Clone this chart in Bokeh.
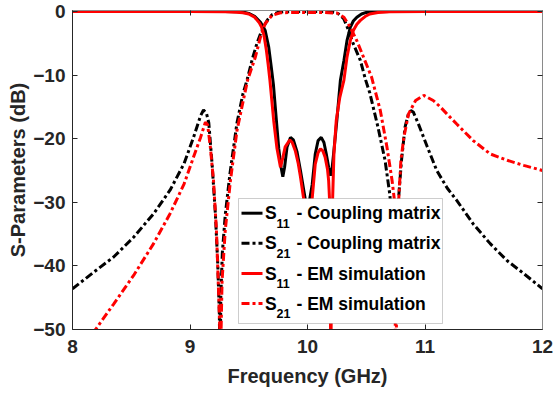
from bokeh.plotting import figure
from bokeh.models import LinearAxis, FixedTicker, BoxAnnotation, Label
from bokeh.embed import file_html
from bokeh.resources import INLINE

# ---------------- data ----------------
x_ticks = [8, 9, 10, 11, 12]
y_ticks = [-50, -40, -30, -20, -10, 0]

# S11 - coupling matrix (black solid)
s11_cm_f = [8.00, 8.50, 9.00, 9.30, 9.40, 9.45, 9.50, 9.55, 9.60, 9.64, 9.67, 9.69, 9.71,
            9.735, 9.755, 9.775, 9.79, 9.805, 9.826, 9.855, 9.88, 9.91, 9.94, 9.98,
            10.00, 10.02, 10.04, 10.066, 10.09, 10.117, 10.14, 10.16, 10.18, 10.195,
            10.21, 10.222, 10.25, 10.28, 10.31, 10.336, 10.364, 10.39, 10.42, 10.46,
            10.50, 10.55, 10.70, 11.00, 12.00]
s11_cm_db = [0.0, 0.0, 0.0, -0.02, -0.06, -0.10, -0.3, -0.75, -1.7, -3.0, -5.6, -8.5, -11.5,
             -17.1, -21.5, -24.5, -26.0, -24.5, -21.3, -19.8, -20.2, -22.0, -25.0, -29.4,
             -42.0, -29.4, -27.2, -22.4, -20.3, -19.8, -20.6, -22.4, -24.5, -25.8,
             -24.5, -22.4, -17.1, -10.8, -7.7, -4.6, -2.5, -1.5, -0.9, -0.4,
             -0.15, -0.05, -0.01, 0.0, 0.0]

# S21 - coupling matrix (black dash-dot)
s21_cm_f = [8.00, 8.18, 8.35, 8.52, 8.69, 8.83, 8.95, 9.03, 9.09, 9.115, 9.14, 9.16,
            9.188, 9.216, 9.236, 9.25, 9.255, 9.262, 9.275, 9.30, 9.34, 9.40, 9.45,
            9.49, 9.53, 9.57, 9.60, 9.63, 9.66, 9.70, 9.75, 9.80, 9.90, 10.10, 10.20,
            10.25, 10.28, 10.31, 10.35, 10.39, 10.45, 10.495, 10.53, 10.60, 10.66,
            10.70, 10.72, 10.74, 10.76, 10.776, 10.80, 10.83, 10.86, 10.88, 10.90,
            10.94, 11.02, 11.10, 11.19, 11.27, 11.41, 11.555, 11.70, 11.84, 12.00]
s21_cm_db = [-43.6, -41.0, -38.6, -35.5, -31.8, -28.1, -23.9, -19.8, -16.4, -15.5, -16.0, -17.5,
             -24.0, -31.8, -39.6, -47.5, -60.0, -45.0, -38.0, -32.0, -25.5, -17.5, -13.0,
             -10.5, -7.5, -5.0, -3.5, -2.3, -1.3, -0.5, -0.15, -0.05, -0.01, -0.01, -0.05,
             -0.2, -0.6, -1.2, -3.0, -5.1, -7.7, -10.8, -12.8, -18.2, -23.4,
             -28.7, -33.0, -45.0, -35.0, -29.2, -23.4, -18.2, -16.0, -15.6, -15.8,
             -17.5, -21.3, -25.0, -27.8, -29.7, -33.4, -36.5, -39.2, -41.2, -43.6]

# S11 - EM simulation (red solid)
s11_em_f = [8.00, 9.00, 9.30, 9.40, 9.45, 9.50, 9.55, 9.59, 9.61, 9.63, 9.65, 9.665, 9.68,
            9.712, 9.74, 9.77, 9.79, 9.81, 9.85, 9.87, 9.896, 9.92, 9.94, 9.967, 10.005,
            10.04, 10.066, 10.09, 10.11, 10.13, 10.15, 10.17, 10.18, 10.19, 10.198,
            10.206, 10.214, 10.225, 10.245, 10.275, 10.31, 10.336, 10.364, 10.39, 10.42,
            10.45, 10.49, 10.53, 10.60, 10.70, 11.00, 12.00]
s11_em_db = [0.0, -0.02, -0.05, -0.12, -0.2, -0.4, -0.9, -1.8, -2.5, -3.8, -6.1, -8.3, -10.8,
             -17.1, -21.5, -24.5, -23.0, -21.3, -20.2, -20.6, -21.9, -23.8, -26.0, -29.4, -40.0,
             -29.4, -24.0, -22.2, -21.6, -21.9, -22.9, -24.8, -26.6, -30.5, -56.0,
             -40.0, -29.4, -22.4, -17.1, -13.5, -10.8, -7.2, -4.6, -3.0, -2.0,
             -1.4, -0.8, -0.4, -0.15, -0.05, -0.02, 0.0]

# S21 - EM simulation (red dash-dot)
s21_em_f = [8.00, 8.196, 8.35, 8.52, 8.69, 8.83, 8.95, 9.03, 9.09, 9.131, 9.15, 9.173,
            9.20, 9.225, 9.24, 9.253, 9.26, 9.265, 9.273, 9.30, 9.344, 9.40, 9.49,
            9.556, 9.60, 9.64, 9.70, 9.77, 9.90, 10.10, 10.25, 10.31, 10.364, 10.42,
            10.477, 10.545, 10.62, 10.676, 10.72, 10.74, 10.745, 10.752, 10.76, 10.776,
            10.795, 10.82, 10.86, 10.92, 10.99, 11.07, 11.13, 11.186, 11.27, 11.41,
            11.555, 11.70, 11.84, 12.00]
s21_em_db = [-55.0, -50.0, -46.0, -41.5, -36.5, -31.8, -27.1, -22.9, -19.8, -17.4, -17.8, -21.3,
             -26.6, -34.4, -42.3, -49.6, -60.0, -49.6, -42.3, -34.4, -26.6, -18.7, -10.8,
             -7.2, -4.0, -1.9, -0.6, -0.2, -0.15, -0.15, -0.25, -0.9, -2.5, -4.6,
             -7.2, -10.3, -15.6, -21.3, -26.6, -29.7, -45.0, -60.0, -42.0, -29.7,
             -23.4, -19.8, -16.1, -14.0, -13.2, -14.0, -15.0, -16.1, -17.7, -20.3,
             -22.4, -23.4, -24.2, -25.0]

legend_main = ["S", "S", "S", "S"]
legend_sub = ["11", "21", "11", "21"]
legend_text = ["- Coupling matrix", "- Coupling matrix", "- EM simulation", "- EM simulation"]

# ---------------- layout ----------------
W, H = 554, 394
ML, MR, MT, MB = 72, 12, 10, 65
X0, X1 = 8, 12
Y0, Y1 = -50, 0.15
PAGE = 0
FL, FR = PAGE + ML, PAGE + W - MR
FT, FB = PAGE + MT, PAGE + H - MB


def px_x(px):
    return X0 + (px - FL) / (FR - FL) * (X1 - X0)


def px_y(py):
    return Y1 - (py - FT) / (FB - FT) * (Y1 - Y0)


FONT = "Liberation Sans"
AX = "#262626"
AX2 = "#8a8a8a"

p = figure(width=W, height=H, x_range=(X0, X1), y_range=(Y0, Y1),
           output_backend="svg", toolbar_location=None,
           min_border_left=ML, min_border_right=MR, min_border_top=MT, min_border_bottom=MB)
p.background_fill_color = "white"
p.border_fill_color = "white"
p.outline_line_color = None
p.grid.grid_line_color = None

for ax, ticks in ((p.xaxis[0], x_ticks), (p.yaxis[0], y_ticks)):
    ax.ticker = FixedTicker(ticks=ticks)
    ax.axis_line_color = AX
    ax.axis_line_width = 1
    ax.major_tick_line_color = AX
    ax.major_tick_in = 5
    ax.major_tick_out = 0
    ax.minor_tick_line_color = None
    ax.major_label_text_font = FONT
    ax.major_label_text_font_style = "bold"
    ax.major_label_text_font_size = "19px"
    ax.major_label_text_color = AX
    ax.axis_label_text_font = FONT
    ax.axis_label_text_font_style = "bold"
    ax.axis_label_text_font_size = "20px"
    ax.axis_label_text_color = AX

p.xaxis[0].axis_label = "Frequency (GHz)"
p.xaxis[0].major_label_standoff = 10
p.xaxis[0].axis_label_standoff = 9
p.yaxis[0].axis_label = "S-Parameters (dB)"
p.yaxis[0].major_label_standoff = 7
p.yaxis[0].axis_label_standoff = 1

for loc, ticks in (("above", x_ticks), ("right", y_ticks)):
    ax = LinearAxis(ticker=FixedTicker(ticks=ticks))
    ax.axis_line_color = AX2
    ax.major_tick_line_color = AX
    ax.major_tick_in = 5
    ax.major_tick_out = 0
    ax.minor_tick_line_color = None
    ax.major_label_text_font_size = "0px"
    ax.major_label_standoff = 0
    ax.major_label_overrides = {t: "" for t in ticks}
    p.add_layout(ax, loc)

DASH = "8 3 3 3"
LW = 3
p.line(s11_cm_f, s11_cm_db, line_color="black", line_width=LW)
p.line(s21_cm_f, s21_cm_db, line_color="black", line_width=LW, line_dash=DASH)
p.line(s11_em_f, s11_em_db, line_color="red", line_width=LW)
p.line(s21_em_f, s21_em_db, line_color="red", line_width=LW, line_dash=DASH)

# ---------------- legend (custom, to get subscripts) ----------------
box = BoxAnnotation(left=px_x(238), right=px_x(442), top=px_y(198), bottom=px_y(323),
                    fill_color="white", fill_alpha=1.0, line_color="#5a5a5a", line_width=1)
p.add_layout(box)

row_y = [212.7, 242.7, 273.0, 303.0]
styles = [("black", None), ("black", DASH), ("red", None), ("red", DASH)]
for i, (col, dash) in enumerate(styles):
    yy = px_y(row_y[i])
    kw = dict(line_color=col, line_width=LW, level="overlay")
    if dash:
        kw["line_dash"] = dash
    p.line([px_x(241), px_x(262)], [yy, yy], **kw)
    p.add_layout(Label(x=px_x(264.5), y=yy, text=legend_main[i], text_font=FONT,
                       text_font_style="bold", text_font_size="17.5px", text_color="black",
                       text_baseline="middle", text_align="left"))
    p.add_layout(Label(x=px_x(276), y=px_y(row_y[i] + 10), text=legend_sub[i], text_font=FONT,
                       text_font_style="bold", text_font_size="12.5px", text_color="black",
                       text_baseline="middle", text_align="left"))
    p.add_layout(Label(x=px_x(296), y=yy, text=legend_text[i], text_font=FONT,
                       text_font_style="bold", text_font_size="17.5px", text_color="black",
                       text_baseline="middle", text_align="left"))

open("out.html", "w").write(file_html(p, INLINE))
